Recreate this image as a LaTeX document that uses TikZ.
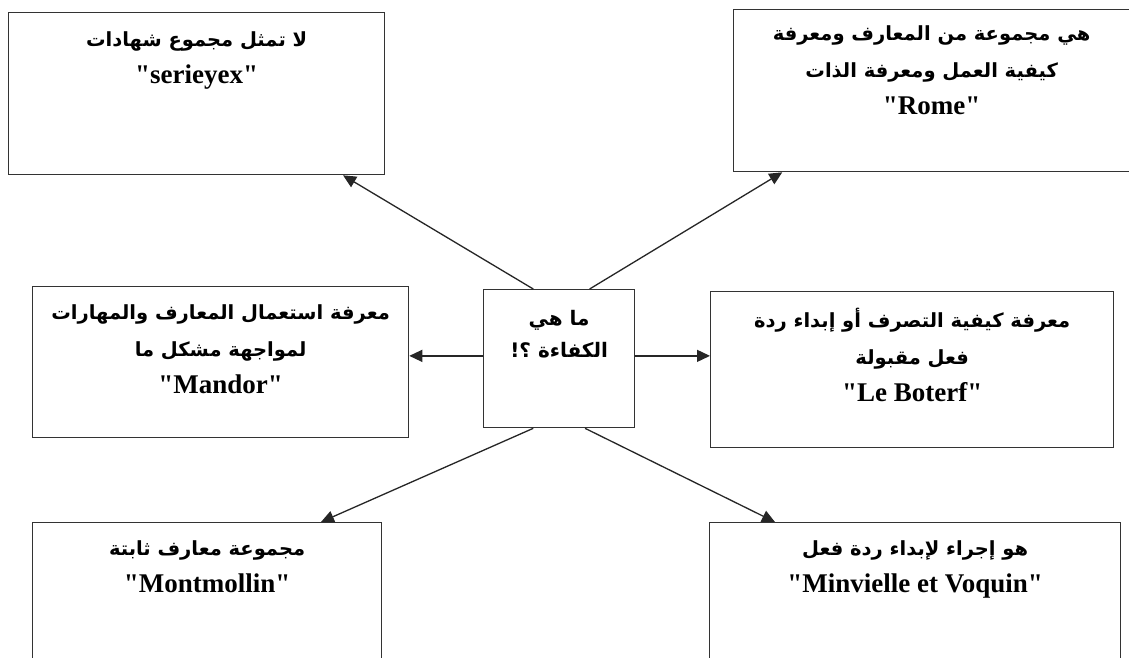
\documentclass[tikz,border=0pt]{standalone}
\usepackage{fontspec}
\newfontfamily\latinfont{Liberation Serif}
\newfontfamily\arabicfont[Script=Arabic]{DejaVu Sans}
\TeXXeTstate=1
\usetikzlibrary{arrows.meta,calc}

% one Arabic line, right to left
\newcommand{\arline}[1]{{\arabicfont\bfseries\fontsize{19.5}{37}\selectfont\beginR #1\endR}}

\tikzset{
  box/.style={draw=black!80, line width=1.3pt, rectangle, inner sep=0pt, anchor=north west},
  lbl/.style={anchor=north, align=center, inner sep=0pt,
              font=\latinfont\bfseries\fontsize{27}{37}\selectfont},
  arr/.style={draw=black!85, line width=1.3pt, -{Triangle[length=13pt,width=12pt]}}
}

\begin{document}
\begin{tikzpicture}[x=1pt,y=-1pt]
\useasboundingbox[fill=white] (0,0) rectangle (1129,657);

% boxes
\node[box, minimum width=376pt, minimum height=162pt] (tl) at (8,12) {};
\node[box, minimum width=396pt, minimum height=162pt] (tr) at (733,9) {};
\node[box, minimum width=376pt, minimum height=151pt] (ml) at (32,286) {};
\node[box, minimum width=151pt, minimum height=138pt] (c)  at (483,289) {};
\node[box, minimum width=403pt, minimum height=156pt] (mr) at (710,291) {};
\node[box, minimum width=349pt, minimum height=170pt] (bl) at (32,522) {};
\node[box, minimum width=411pt, minimum height=170pt] (br) at (709,522) {};

% texts
\node[lbl] (tlt) at ($(tl.north)+(0,19)$)
  {\arline{لا تمثل مجموع شهادات}\\"serieyex"};
\node[lbl] (trt) at ($(tr.north)+(0,16)$)
  {\arline{هي مجموعة من المعارف ومعرفة}\\\arline{كيفية العمل ومعرفة الذات}\\"Rome"};
\node[lbl] (mlt) at ($(ml.north)+(0,18)$)
  {\arline{معرفة استعمال المعارف والمهارات}\\\arline{لمواجهة مشكل ما}\\"Mandor"};
\node[lbl, font=\arabicfont\bfseries\fontsize{20}{32}\selectfont] (ct) at ($(c.north)+(0,21)$)
  {\beginR ما هي\endR\\\beginR الكفاءة ؟!\endR};
\node[lbl] (mrt) at ($(mr.north)+(0,17)$)
  {\arline{معرفة كيفية التصرف أو إبداء ردة}\\\arline{فعل مقبولة}\\"Le Boterf"};
\node[lbl] (blt) at ($(bl.north)+(0,18)$)
  {\arline{مجموعة معارف ثابتة}\\"Montmollin"};
\node[lbl] (brt) at ($(br.north)+(0,18)$)
  {\arline{هو إجراء لإبداء ردة فعل}\\"Minvielle et Voquin"};

% connector end points on the centre box
\coordinate (cNW) at ($(c.north west)!0.33!(c.north east)$);
\coordinate (cNE) at ($(c.north west)!0.70!(c.north east)$);
\coordinate (cSW) at ($(c.south west)!0.33!(c.south east)$);
\coordinate (cSE) at ($(c.south west)!0.67!(c.south east)$);
\coordinate (cW)  at ($(c.north west)!0.48!(c.south west)$);
\coordinate (cE)  at ($(c.north east)!0.48!(c.south east)$);

% connectors
\draw[arr] (cNW) -- ($(tl.south west)!0.888!(tl.south east)$);
\draw[arr] (cNE) -- ($(tr.south west)!0.124!(tr.south east)$);
\draw[arr] (cW) -- (cW -| ml.east);
\draw[arr] (cE) -- (cE -| mr.west);
\draw[arr] (cSW) -- ($(bl.north west)!0.825!(bl.north east)$);
\draw[arr] (cSE) -- ($(br.north west)!0.16!(br.north east)$);
\end{tikzpicture}
\end{document}
